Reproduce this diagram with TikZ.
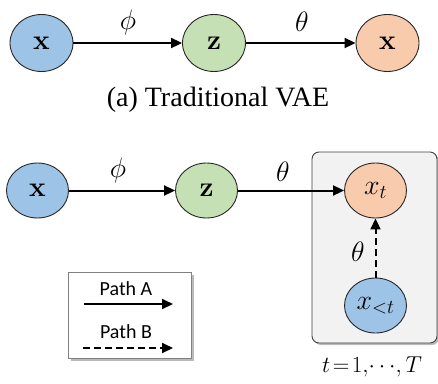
\RequirePackage{fix-cm}
\documentclass[tikz,border=0pt]{standalone}
\usepackage[no-math]{fontspec}
\setmainfont{Liberation Serif}
\newfontfamily\legendfont{Carlito}
\usetikzlibrary{arrows.meta,shadows,shapes.geometric}
\definecolor{vblue}{HTML}{9DC3E6}
\definecolor{vgreen}{HTML}{C5E0B4}
\definecolor{vorange}{HTML}{F8CBAD}
\definecolor{boxgray}{HTML}{F2F2F2}
\begin{document}
\begin{tikzpicture}[x=1pt,y=-1pt,
  ell/.style={ellipse,draw=black!85,line width=0.9pt,inner sep=0pt,minimum width=63pt,minimum height=57pt,font=\fontsize{28}{34}\selectfont},
  ellb/.style={ell,minimum width=62pt,minimum height=55pt},
  arr/.style={line width=2pt,-{Triangle[length=11pt,width=10pt]}},
  darr/.style={arr,dash pattern=on 7pt off 4pt},
  lbl/.style={font=\fontsize{28}{34}\selectfont,inner sep=0pt},
  leg/.style={font=\legendfont\fontsize{20}{24}\selectfont,inner sep=0pt}
]
\useasboundingbox (0,0) rectangle (438,383);
% top row
\node[ell,fill=vblue] (x1) at (41.5,43) {$\mathbf{x}$};
\node[ell,fill=vgreen] (z1) at (214,43) {$\mathbf{z}$};
\node[ell,fill=vorange] (x2) at (387.5,43) {$\mathbf{x}$};
\draw[arr] (x1) -- (z1);
\draw[arr] (z1) -- (x2);
\node[lbl] (phi1) at (128,22) {$\phi$};
\node[lbl] (th1) at (302,22) {$\theta$};
\node[font=\fontsize{28}{34}\selectfont,inner sep=0pt] (cap) at (218,100) {(a) Traditional VAE};
% bottom
\node[draw=black!75,line width=0.9pt,fill=boxgray,rounded corners=7pt,minimum width=125pt,minimum height=191pt,
  drop shadow={shadow xshift=2pt,shadow yshift=-2pt,fill=black!45,opacity=0.6}] (plate) at (374.5,247.5) {};
\node[ellb,fill=vblue] (x3) at (37.5,190.5) {$\mathbf{x}$};
\node[ellb,fill=vgreen] (z3) at (206.5,190.5) {$\mathbf{z}$};
\node[ellb,fill=vorange] (xt) at (375.5,190.5) {$x_t$};
\node[ellb,fill=vblue] (xlt) at (375.5,305.5) {$x_{<t}$};
\draw[arr] (x3) -- (z3);
\draw[arr] (z3) -- (xt);
\draw[darr] (xlt) -- (xt);
\node[lbl] (phi2) at (118,170) {$\phi$};
\node[lbl] (th2) at (283,172) {$\theta$};
\node[lbl] (th3) at (358,252) {$\theta$};
\node[font=\fontsize{23}{28}\selectfont,inner sep=0pt] (tl) at (372,367) {$t\!=\!1,\!\cdots\!,T$};
% legend
\node[draw=black!50,line width=0.8pt,fill=white,minimum width=123pt,minimum height=86pt,
  drop shadow={shadow xshift=2.5pt,shadow yshift=-2.5pt,fill=black!45,opacity=0.6}] (legend) at (129.5,315) {};
\node[leg] (pa) at (126,289) {Path A};
\node[leg] (pb) at (126,332) {Path B};
\coordinate (a1) at (84,304);
\coordinate (a2) at (173,304);
\coordinate (b1) at (83,348);
\coordinate (b2) at (173,348);
\draw[arr] (a1) -- (a2);
\draw[darr] (b1) -- (b2);
\end{tikzpicture}
\end{document}
